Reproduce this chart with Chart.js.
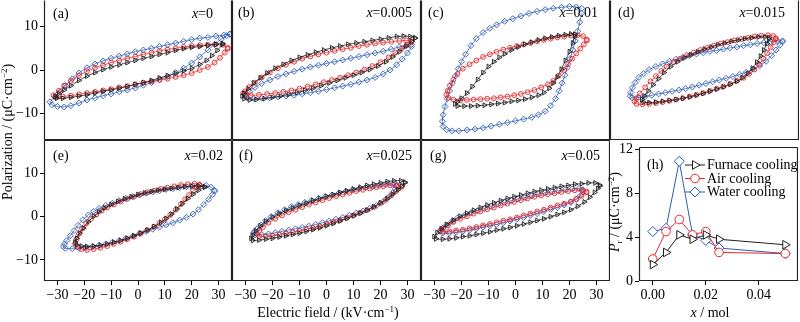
<!DOCTYPE html>
<html>
<head>
<meta charset="utf-8">
<script src="https://cdn.jsdelivr.net/npm/chart.js@4.4.1/dist/chart.umd.min.js"></script>
<style>
  body { margin: 0; background: #fff; }
  #fig { position: relative; width: 800px; height: 322px; overflow: hidden;
         font-family: "Liberation Serif", "Times New Roman", serif; color: #000; background: #fff; }
  #fig canvas { position: absolute; }
  .lbl { position: absolute; font-size: 14px; line-height: 14px; white-space: nowrap; }
  .lbl sup { font-size: 9px; vertical-align: 5px; line-height: 0; }
  .lbl sub { font-size: 9px; vertical-align: -3px; line-height: 0; }
</style>
</head>
<body>
<div id="fig"></div>
<script>
// ---- tick values and labels ----
const fieldTicks = [-30, -20, -10, 0, 10, 20, 30];
const fieldTickLabels = ['\u221230', '\u221220', '\u221210', '0', '10', '20', '30'];
const polTicks = [-10, 0, 10];
const polTickLabels = ['\u221210', '0', '10'];
const molTicks = [0, 0.02, 0.04];
const molTickLabels = ['0.00', '0.02', '0.04'];
const prTicks = [0, 4, 8, 12];
const prTickLabels = ['0', '4', '8', '12'];

// ---- P-E loops, [E (kV/cm), P (uC/cm2)]: upper branch then lower branch ----
const a_furnace = [[31.5,6.1],[29,5.9],[26,5.7],[23,5.4],[20,5.2],[17,4.9],[14,4.5],[11,4.0],[8,3.6],[5,3.1],[2,2.7],[-1,2.2],[-4,1.7],[-7,1.2],[-10,0.7],[-13,0.1],[-16,-0.6],[-19,-1.4],[-22,-2.4],[-25,-3.6],[-27.5,-4.6],[-29.5,-5.4],[-30.9,-6.1],
  [-30.2,-6.5],[-28,-6.5],[-25,-6.3],[-22,-6.0],[-19,-5.7],[-16,-5.3],[-13,-4.9],[-10,-4.6],[-7,-4.2],[-4,-3.8],[-1,-3.3],[2,-2.9],[5,-2.4],[8,-1.8],[11,-1.3],[14,-0.8],[17,-0.2],[20,0.4],[23,1.3],[25.5,2.2],[27.5,3.3],[29.5,4.5],[31.5,5.9]];
const a_air = [[33.4,5.1],[31.5,5.8],[29,5.9],[26,5.8],[23,5.7],[20,5.5],[17,5.3],[14,5.0],[11,4.7],[8,4.4],[5,4.0],[2,3.6],[-1,3.1],[-4,2.7],[-7,2.2],[-10,1.7],[-13,1.1],[-16,0.5],[-19,-0.3],[-22,-1.3],[-25,-2.5],[-27.5,-3.6],[-29.5,-4.8],[-31.5,-5.8],
  [-30.5,-6.2],[-28,-6.1],[-25,-5.9],[-22,-5.6],[-19,-5.3],[-16,-5.0],[-13,-4.7],[-10,-4.4],[-7,-4.0],[-4,-3.7],[-1,-3.3],[2,-2.9],[5,-2.6],[8,-2.3],[11,-2.0],[14,-1.6],[17,-1.2],[20,-0.7],[23,0.0],[26,0.7],[28.5,1.7],[30.5,2.8],[32.3,4.0],[33.4,4.9]];
const a_water = [[34.2,8.3],[32,8.0],[29,7.8],[26,7.5],[23,7.3],[20,7.0],[17,6.6],[14,6.2],[11,5.8],[8,5.4],[5,5.0],[2,4.6],[-1,4.2],[-4,3.7],[-7,3.2],[-10,2.7],[-13,2.1],[-16,1.4],[-19,0.5],[-22,-0.7],[-24.5,-2.0],[-27,-3.6],[-29,-5.0],[-31,-6.2],[-32.8,-7.3],
  [-32,-8.0],[-30,-8.4],[-27.5,-8.5],[-25,-8.2],[-22,-7.6],[-19,-6.9],[-16,-6.4],[-13,-5.9],[-10,-5.5],[-7,-5.0],[-4,-4.6],[-1,-4.1],[2,-3.5],[5,-2.9],[8,-2.2],[11,-1.5],[14,-0.6],[17,0.4],[20,1.6],[23,3.0],[26,4.6],[28.5,5.9],[31,7.1],[33,7.9],[34.2,8.2]];

const b_furnace = [[32.8,7.4],[31,7.7],[28.5,7.8],[26,7.7],[23,7.4],[20,7.1],[17,6.8],[14,6.5],[11,6.2],[8,5.9],[5,5.5],[2,5.1],[-1,4.6],[-4,4.1],[-7,3.5],[-10,2.9],[-13,2.2],[-16,1.3],[-19,0.4],[-22,-0.7],[-24.5,-1.8],[-27,-3.0],[-29,-4.3],[-30.5,-5.4],[-31.2,-6.0],
  [-30.5,-6.6],[-28.5,-6.9],[-26,-6.8],[-23,-6.6],[-20,-6.3],[-17,-6.0],[-14,-5.6],[-11,-5.2],[-8,-4.7],[-5,-4.2],[-2,-3.6],[1,-3.0],[4,-2.4],[7,-1.8],[10,-1.2],[13,-0.6],[16,0.1],[19,0.9],[22,1.9],[24.5,3.0],[27,4.2],[29.5,5.5],[31.5,6.6],[32.8,7.3]];
const b_air = [[31.5,6.6],[29.5,6.8],[27,6.7],[24,6.5],[21,6.3],[18,6.1],[15,5.8],[12,5.5],[9,5.1],[6,4.8],[3,4.4],[0,4.0],[-3,3.6],[-6,3.1],[-9,2.6],[-12,1.9],[-15,1.2],[-18,0.4],[-21,-0.6],[-24,-1.7],[-26.5,-2.9],[-28.5,-3.9],[-30.2,-4.9],[-30.8,-5.3],
  [-30,-5.6],[-28,-5.8],[-25,-5.7],[-22,-5.5],[-19,-5.3],[-16,-5.0],[-13,-4.7],[-10,-4.3],[-7,-3.8],[-4,-3.3],[-1,-2.8],[2,-2.3],[5,-1.8],[8,-1.2],[11,-0.6],[14,0.1],[17,0.9],[20,1.8],[23,2.9],[25.5,4.0],[28,5.0],[30,5.8],[31.5,6.4]];
const b_water = [[31.5,5.9],[29.5,5.6],[27,5.3],[24,4.8],[21,4.3],[18,3.9],[15,3.5],[12,3.1],[9,2.7],[6,2.3],[3,1.9],[0,1.5],[-3,1.1],[-6,0.7],[-9,0.2],[-12,-0.3],[-15,-0.9],[-18,-1.5],[-21,-2.3],[-24,-3.1],[-26.5,-4.0],[-28.5,-5.0],[-30,-5.9],
  [-29.5,-6.4],[-27,-6.5],[-24,-6.5],[-21,-6.4],[-18,-6.2],[-15,-6.0],[-12,-5.8],[-9,-5.5],[-6,-5.2],[-3,-4.9],[0,-4.5],[3,-4.1],[6,-3.7],[9,-3.3],[12,-2.8],[15,-2.3],[18,-1.7],[21,-0.9],[23.5,0.0],[26,1.2],[28,2.5],[30,3.9],[31.5,5.4]];

const c_furnace = [[22.0,8.2],[20.5,8.3],[18.5,8.1],[16,7.9],[13.5,7.6],[11,7.3],[8.5,6.9],[6,6.4],[3.5,5.9],[1,5.3],[-1.5,4.6],[-4,3.7],[-6,2.9],[-8,1.9],[-10,0.8],[-12,-0.6],[-14,-2.2],[-16,-3.8],[-18,-5.3],[-20,-6.5],[-21.5,-7.3],[-22.4,-7.8],
  [-21.5,-8.3],[-19,-8.3],[-16.5,-8.3],[-14,-8.2],[-11.5,-8.1],[-9,-7.9],[-6.5,-7.7],[-4,-7.5],[-1.5,-7.2],[1,-7.0],[3.5,-6.7],[6,-6.3],[8.5,-5.8],[10.5,-5.2],[12.5,-4.2],[14,-3.0],[15.5,-1.6],[17,0.2],[18.5,2.2],[20,4.2],[21.2,6.2],[22.0,7.8]];
const c_air = [[26.4,7.0],[25,7.8],[23,8.0],[20.5,7.9],[18,7.7],[15.5,7.5],[13,7.2],[10.5,6.9],[8,6.6],[5.5,6.2],[3,5.9],[0.5,5.5],[-2,5.1],[-4.5,4.7],[-7,4.2],[-9.5,3.6],[-12,3.0],[-14.5,2.2],[-17,1.3],[-19.5,0.3],[-21.5,-0.9],[-23,-2.2],[-24.3,-3.6],[-25.2,-4.8],[-25.6,-5.7],
  [-24.8,-6.4],[-23,-6.8],[-20.5,-7.0],[-18,-6.9],[-15.5,-6.8],[-13,-6.7],[-10.5,-6.6],[-8,-6.5],[-5.5,-6.3],[-3,-6.1],[-0.5,-5.8],[2,-5.5],[4.5,-5.1],[7,-4.6],[9.5,-4.0],[12,-3.3],[14,-2.5],[16,-1.3],[18,0.0],[19.5,1.3],[21,2.6],[22.5,3.8],[24,4.9],[25.3,5.9],[26.4,6.8]];
const c_water = [[24.5,14.2],[22.5,14.5],[20,14.6],[17,14.4],[14,14.2],[11,13.9],[8,13.5],[5,13.0],[2,12.4],[-1,11.8],[-4,11.2],[-7,10.4],[-9.5,9.6],[-12,8.6],[-14.5,7.2],[-16.5,5.6],[-18.5,3.6],[-20,1.9],[-21.2,0.3],[-22.3,-1.4],[-23.4,-3.0],[-24.4,-4.8],[-25.3,-6.6],[-26.1,-8.4],[-26.8,-10.3],[-27.1,-11.8],[-26.8,-13.0],[-25.5,-13.7],
  [-23.5,-14.0],[-21,-14.0],[-18,-13.8],[-15,-13.6],[-12,-13.3],[-9,-12.9],[-6,-12.5],[-3,-12.1],[0,-11.7],[3,-11.3],[6,-10.9],[8.5,-10.3],[11,-9.5],[13,-8.2],[14.8,-6.6],[16.2,-4.8],[17.3,-3.0],[18.3,-1.2],[19.2,0.6],[20.2,2.6],[21.2,4.6],[22.1,6.7],[23,8.9],[23.8,11.0],[24.4,13.0]];

const d_furnace = [[23.9,7.4],[22.5,7.6],[20,7.6],[17.5,7.4],[15,7.2],[12.5,6.9],[10,6.6],[7.5,6.2],[5,5.8],[2.5,5.3],[0,4.8],[-2.5,4.2],[-5,3.5],[-7.5,2.8],[-10,1.9],[-12.5,0.8],[-15,-0.6],[-17,-2.0],[-19,-3.4],[-20.8,-4.8],[-22.3,-6.0],[-23.2,-6.8],
  [-22.6,-7.4],[-20.5,-7.5],[-18,-7.4],[-15.5,-7.2],[-13,-7.0],[-10.5,-6.8],[-8,-6.5],[-5.5,-6.2],[-3,-5.8],[-0.5,-5.4],[2,-4.9],[4.5,-4.4],[7,-3.9],[9.5,-3.3],[12,-2.6],[14,-1.8],[16,-0.8],[17.8,0.4],[19.4,1.8],[20.8,3.2],[22,4.6],[23.1,6.0],[23.9,7.1]];
const d_air = [[26.4,7.3],[25.5,7.8],[23.5,8.0],[21,7.9],[18.5,7.7],[16,7.4],[13.5,7.1],[11,6.8],[8.5,6.4],[6,6.1],[3.5,5.6],[1,5.1],[-1.5,4.6],[-4,4.0],[-6.5,3.4],[-9,2.6],[-11.5,1.8],[-14,0.8],[-16,-0.2],[-18,-1.4],[-20,-2.6],[-22,-4.0],[-24,-5.4],[-25.3,-6.5],[-25.9,-7.2],
  [-25.2,-7.8],[-23,-7.9],[-20.5,-7.8],[-18,-7.6],[-15.5,-7.4],[-13,-7.1],[-10.5,-6.8],[-8,-6.5],[-5.5,-6.1],[-3,-5.7],[-0.5,-5.3],[2,-4.8],[4.5,-4.3],[7,-3.8],[9.5,-3.2],[12,-2.5],[14.5,-1.8],[16.5,-0.9],[18.5,0.1],[20.3,1.3],[21.8,2.6],[23.2,3.9],[24.5,5.2],[25.7,6.4],[26.4,7.1]];
const d_water = [[28.9,6.7],[27,6.7],[24.5,6.5],[22,6.3],[19.5,6.1],[17,5.8],[14.5,5.6],[12,5.3],[9.5,5.1],[7,4.8],[4.5,4.5],[2,4.3],[-0.5,4.0],[-3,3.7],[-5.5,3.3],[-8,2.9],[-10.5,2.5],[-13,2.0],[-15.5,1.4],[-18,0.8],[-20.5,0.1],[-22.5,-0.8],[-24.3,-1.7],[-25.7,-2.9],[-26.7,-4.1],[-27.3,-5.2],[-27.5,-6.0],
  [-26.8,-6.4],[-24.5,-6.3],[-22,-6.1],[-19.5,-5.8],[-17,-5.5],[-14.5,-5.2],[-12,-4.9],[-9.5,-4.6],[-7,-4.3],[-4.5,-3.9],[-2,-3.5],[0.5,-3.1],[3,-2.7],[5.5,-2.3],[8,-1.9],[10.5,-1.5],[13,-1.0],[15.5,-0.5],[18,0.2],[20.5,1.0],[22.8,2.0],[24.8,3.3],[26.5,4.6],[27.9,5.7],[28.9,6.5]];

const e_furnace = [[24.8,6.9],[22.5,7.1],[20,7.0],[17.5,6.9],[15,6.7],[12.5,6.5],[10,6.3],[7.5,6.1],[5,5.8],[2.5,5.5],[0,5.1],[-2.5,4.6],[-5,4.1],[-7.5,3.5],[-10,2.8],[-12.5,2.0],[-14.5,1.1],[-16.5,0.1],[-18.5,-1.2],[-20.3,-2.6],[-21.7,-3.8],[-22.8,-5.0],[-23.4,-5.9],
  [-22.8,-6.5],[-21,-6.8],[-19,-6.9],[-16.5,-6.8],[-14,-6.6],[-11.5,-6.3],[-9,-5.9],[-6.5,-5.5],[-4,-5.0],[-1.5,-4.4],[1,-3.8],[3.5,-3.1],[6,-2.3],[8.5,-1.3],[10.5,-0.4],[12.5,0.6],[14.5,1.8],[16.5,3.0],[18.5,4.2],[20.5,5.2],[22.5,6.1],[24.8,6.8]];
const e_air = [[22.9,7.4],[21,7.6],[18.5,7.5],[16,7.3],[13.5,7.0],[11,6.7],[8.5,6.4],[6,6.0],[3.5,5.6],[1,5.2],[-1.5,4.6],[-4,4.1],[-6.5,3.5],[-9,2.8],[-11.5,2.1],[-13.5,1.4],[-15.5,0.5],[-17.5,-0.5],[-19.3,-1.6],[-20.8,-2.8],[-22,-4.0],[-22.9,-5.2],[-23.4,-6.2],
  [-22.6,-7.0],[-21,-7.5],[-19,-7.7],[-16.5,-7.5],[-14,-7.2],[-11.5,-6.8],[-9,-6.3],[-6.5,-5.8],[-4,-5.2],[-1.5,-4.6],[1,-3.9],[3.5,-3.1],[6,-2.3],[8,-1.5],[10,-0.6],[12,0.4],[14,1.6],[16,2.9],[17.5,4.0],[19,5.0],[20.5,6.0],[22,6.8],[22.9,7.3]];
const e_water = [[28.5,6.1],[27.2,6.8],[25.4,7.2],[23,7.2],[20.5,7.1],[18,6.9],[15.5,6.7],[13,6.5],[10.5,6.3],[8,6.0],[5.5,5.7],[3,5.4],[0.5,5.0],[-2,4.6],[-4.5,4.2],[-7,3.7],[-9.5,3.1],[-12,2.6],[-14.5,1.9],[-16.5,1.2],[-18.5,0.4],[-20.5,-0.7],[-22.3,-2.0],[-23.8,-3.2],[-25.2,-4.4],[-26.5,-5.5],[-27.4,-6.3],[-27.8,-6.9],
  [-27,-7.3],[-24.5,-7.4],[-22,-7.3],[-19.5,-7.1],[-17,-6.9],[-14.5,-6.6],[-12,-6.3],[-9.5,-5.9],[-7,-5.5],[-4.5,-5.0],[-2,-4.5],[0.5,-3.9],[3,-3.4],[5.5,-2.9],[8,-2.4],[10.5,-1.9],[13,-1.4],[15.5,-0.8],[18,-0.2],[20.5,0.6],[22.5,1.6],[24.5,2.8],[26.3,4.0],[27.7,5.1],[28.5,5.9]];

const f_furnace = [[29,8.0],[27.5,8.3],[25,8.3],[22.5,8.1],[20,7.8],[17.5,7.5],[15,7.2],[12.5,6.8],[10,6.4],[7.5,6.0],[5,5.6],[2.5,5.1],[0,4.7],[-2.5,4.2],[-5,3.7],[-7.5,3.1],[-10,2.6],[-12.5,2.0],[-15,1.4],[-17.5,0.7],[-20,-0.1],[-22.5,-1.1],[-24.5,-2.1],[-26.2,-3.2],[-27.4,-4.3],[-27.9,-5.0],
  [-27.3,-5.5],[-25,-5.4],[-22.5,-5.2],[-20,-5.0],[-17.5,-4.7],[-15,-4.4],[-12.5,-4.1],[-10,-3.8],[-7.5,-3.4],[-5,-3.0],[-2.5,-2.6],[0,-2.1],[2.5,-1.6],[5,-1.0],[7.5,-0.4],[10,0.2],[12.5,0.8],[15,1.5],[17.5,2.3],[20,3.2],[22.5,4.2],[24.5,5.2],[26.5,6.2],[28,7.1],[29,7.8]];
const f_air = [[27.8,7.0],[26,7.3],[23.5,7.2],[21,7.0],[18.5,6.8],[16,6.5],[13.5,6.2],[11,5.9],[8.5,5.5],[6,5.1],[3.5,4.7],[1,4.3],[-1.5,3.8],[-4,3.3],[-6.5,2.8],[-9,2.2],[-11.5,1.6],[-14,1.0],[-16.5,0.3],[-19,-0.5],[-21.5,-1.4],[-23.5,-2.4],[-24.9,-3.3],[-25.7,-4.0],
  [-25,-4.5],[-22.5,-4.5],[-20,-4.4],[-17.5,-4.1],[-15,-3.9],[-12.5,-3.6],[-10,-3.3],[-7.5,-2.9],[-5,-2.6],[-2.5,-2.2],[0,-1.7],[2.5,-1.2],[5,-0.8],[7.5,-0.3],[10,0.3],[12.5,0.9],[15,1.5],[17.5,2.2],[20,3.1],[22,3.9],[24,4.9],[25.8,5.9],[27.8,6.9]];
const f_water = [[25.9,7.2],[24.5,7.5],[22,7.4],[19.5,7.2],[17,6.9],[14.5,6.7],[12,6.4],[9.5,6.1],[7,5.8],[4.5,5.4],[2,5.0],[-0.5,4.6],[-3,4.2],[-5.5,3.8],[-8,3.3],[-10.5,2.8],[-13,2.3],[-15.5,1.6],[-18,0.9],[-20.5,0.0],[-22.5,-0.9],[-24.3,-1.9],[-25.7,-2.8],[-26.6,-3.4],[-27,-3.8],
  [-26.5,-4.2],[-24,-4.1],[-21.5,-4.0],[-19,-3.7],[-16.5,-3.4],[-14,-3.1],[-11.5,-2.8],[-9,-2.5],[-6.5,-2.2],[-4,-1.8],[-1.5,-1.4],[1,-1.0],[3.5,-0.6],[6,-0.2],[8.5,0.3],[11,0.8],[13.5,1.3],[16,1.9],[18.5,2.6],[21,3.5],[23,4.5],[24.5,5.5],[25.5,6.4],[25.9,7.0]];

const g_furnace = [[31.2,7.3],[29.5,7.8],[27,7.8],[24.5,7.6],[22,7.5],[19.5,7.2],[17,7.0],[14.5,6.7],[12,6.4],[9.5,6.1],[7,5.8],[4.5,5.4],[2,5.0],[-0.5,4.6],[-3,4.2],[-5.5,3.7],[-8,3.2],[-10.5,2.7],[-13,2.1],[-15.5,1.5],[-18,0.8],[-20.5,0.1],[-23,-0.8],[-25.5,-1.8],[-27.5,-2.8],[-29,-3.7],[-30.1,-4.6],
  [-29.5,-5.1],[-27,-5.2],[-24.5,-5.1],[-22,-4.9],[-19.5,-4.6],[-17,-4.4],[-14.5,-4.1],[-12,-3.8],[-9.5,-3.5],[-7,-3.1],[-4.5,-2.8],[-2,-2.5],[0.5,-2.1],[3,-1.7],[5.5,-1.3],[8,-0.9],[10.5,-0.5],[13,0.0],[15.5,0.5],[18,1.0],[20.5,1.6],[23,2.4],[25.5,3.4],[27.5,4.5],[29.3,5.6],[30.5,6.5],[31.2,7.1]];
const g_air = [[26.3,5.8],[24.5,6.2],[22,6.1],[19.5,5.9],[17,5.7],[14.5,5.4],[12,5.2],[9.5,4.9],[7,4.6],[4.5,4.2],[2,3.8],[-0.5,3.4],[-3,3.0],[-5.5,2.6],[-8,2.1],[-10.5,1.7],[-13,1.2],[-15.5,0.7],[-18,0.1],[-20.5,-0.5],[-23,-1.2],[-25,-2.0],[-26.8,-2.7],[-27.8,-3.2],
  [-26.8,-3.5],[-24.5,-3.4],[-22,-3.2],[-19.5,-3.0],[-17,-2.7],[-14.5,-2.4],[-12,-2.0],[-9.5,-1.7],[-7,-1.3],[-4.5,-0.9],[-2,-0.6],[0.5,-0.2],[3,0.3],[5.5,0.7],[8,1.2],[10.5,1.6],[13,2.1],[15.5,2.6],[18,3.0],[20.5,3.5],[22.5,4.1],[24.5,4.8],[26.3,5.6]];
const g_water = [[25,6.2],[23.5,6.5],[21,6.4],[18.5,6.2],[16,6.0],[13.5,5.7],[11,5.5],[8.5,5.2],[6,4.8],[3.5,4.4],[1,4.1],[-1.5,3.7],[-4,3.3],[-6.5,2.9],[-9,2.4],[-11.5,1.9],[-14,1.4],[-16.5,0.9],[-19,0.3],[-21.5,-0.3],[-23.5,-1.1],[-25.5,-1.9],[-27,-2.7],[-27.9,-3.3],
  [-27,-3.8],[-24.5,-3.8],[-22,-3.6],[-19.5,-3.4],[-17,-3.1],[-14.5,-2.8],[-12,-2.4],[-9.5,-2.1],[-7,-1.8],[-4.5,-1.4],[-2,-1.0],[0.5,-0.6],[3,-0.2],[5.5,0.3],[8,0.7],[10.5,1.2],[13,1.7],[15.5,2.1],[18,2.7],[20.5,3.3],[22.5,4.0],[24,4.9],[25,5.8]];

// ---- remanent polarization vs. composition ----
const molFraction = [0, 0.005, 0.01, 0.015, 0.02, 0.025, 0.05];
const prFurnace = [1.5, 2.6, 4.2, 3.8, 4.2, 3.8, 3.3];
const prAir = [2.0, 4.5, 5.6, 4.2, 4.5, 2.6, 2.5];
const prWater = [4.5, 4.8, 10.9, 4.2, 3.7, 3.0, 2.5];
const seriesNames = ['Furnace cooling', 'Air cooling', 'Water cooling'];

// ---- styling ----
const SERIF = '"Liberation Serif", "Times New Roman", serif';
const STYLE = {
  furnace: { color: '#1e1e1e', pointStyle: 'triangle', rotation: 90, radius: 2.8 },
  air:     { color: '#e3262a', pointStyle: 'circle',   rotation: 0,  radius: 2.4 },
  water:   { color: '#2f5cb6', pointStyle: 'rectRot',  rotation: 0,  radius: 3.0 }
};
const FRAME = '#222';

const fig = document.getElementById('fig');

function addText(html, x, y, align, rotate) {
  const d = document.createElement('div');
  d.className = 'lbl';
  d.innerHTML = html;
  d.style.left = x + 'px';
  d.style.top = y + 'px';
  const tx = align === 'right' ? '-100%' : (align === 'center' ? '-50%' : '0');
  d.style.transform = 'translate(' + tx + ',-50%)' + (rotate ? ' rotate(-90deg)' : '');
  fig.appendChild(d);
}

// frame around the plotting area
const framePlugin = {
  id: 'frame',
  afterDraw(chart, args, opts) {
    const { ctx, chartArea: a } = chart;
    ctx.save();
    ctx.strokeStyle = FRAME;
    ctx.lineWidth = 1.2;
    ctx.beginPath();
    const l = a.left + 0.5, r = a.right - 0.5, t = a.top + 0.5, b = a.bottom - 0.5;
    if (!opts.noTop) { ctx.moveTo(l, t); ctx.lineTo(r, t); }
    ctx.moveTo(r, t); ctx.lineTo(r, b);
    ctx.lineTo(l, b); ctx.lineTo(l, t);
    ctx.stroke();
    ctx.restore();
  }
};

function makeCanvas(left, top, w, h) {
  const c = document.createElement('canvas');
  c.width = w; c.height = h;
  c.style.left = left + 'px'; c.style.top = top + 'px';
  c.style.width = w + 'px'; c.style.height = h + 'px';
  fig.appendChild(c);
  return c;
}

// fixed-size axis: the plotting area lands exactly on the panel box
function axis(min, max, ticks, labels, show, size, isX) {
  return {
    type: 'linear', min: min, max: max,
    afterBuildTicks: s => { s.ticks = ticks.map(v => ({ value: v })); },
    afterFit: s => {
      if (isX) s.height = size; else s.width = size;
      s.paddingTop = 0; s.paddingBottom = 0; s.paddingLeft = 0; s.paddingRight = 0;
    },
    border: { display: false },
    grid: { display: show, drawOnChartArea: false, drawTicks: true, tickLength: 4, color: '#000', lineWidth: 1 },
    ticks: {
      display: show, autoSkip: false, maxRotation: 0, minRotation: 0, padding: 2,
      color: '#000', font: { family: SERIF, size: 14 },
      callback: (v, i) => labels[i]
    }
  };
}

function loopDataset(points, key) {
  const s = STYLE[key];
  return {
    data: points.map(p => ({ x: p[0], y: p[1] })),
    showLine: true, borderColor: s.color, borderWidth: 0.8, tension: 0.15,
    pointStyle: s.pointStyle, rotation: s.rotation, pointRadius: s.radius,
    pointBorderColor: s.color, pointBackgroundColor: 'rgba(255,255,255,0)', pointBorderWidth: 0.9
  };
}

function loopPanel(box, yMin, yMax, showX, showY, loops, noTop) {
  const mL = showY ? 44 : 0, mB = showX ? 24 : 0;
  const c = makeCanvas(box.x - mL, box.y, box.w + mL, box.h + mB);
  new Chart(c, {
    type: 'scatter',
    data: { datasets: [loopDataset(loops.furnace, 'furnace'), loopDataset(loops.air, 'air'), loopDataset(loops.water, 'water')] },
    options: {
      responsive: false, animation: false, events: [],
      layout: { padding: 0, autoPadding: false },
      plugins: { legend: { display: false }, tooltip: { enabled: false }, frame: { noTop: noTop } },
      scales: {
        x: axis(-35, 35, fieldTicks, fieldTickLabels, showX, mB, true),
        y: axis(yMin, yMax, polTicks, polTickLabels, showY, mL, false)
      }
    },
    plugins: [framePlugin]
  });
}

const TOP = [-16.1, 16.1], BOT = [-14.85, 17.7];
loopPanel({ x: 44,  y: 0, w: 188, h: 140 }, TOP[0], TOP[1], false, true,  { furnace: a_furnace, air: a_air, water: a_water }, true);
loopPanel({ x: 232, y: 0, w: 189, h: 140 }, TOP[0], TOP[1], false, false, { furnace: b_furnace, air: b_air, water: b_water }, true);
loopPanel({ x: 421, y: 0, w: 189, h: 140 }, TOP[0], TOP[1], false, false, { furnace: c_furnace, air: c_air, water: c_water }, true);
loopPanel({ x: 610, y: 0, w: 189, h: 140 }, TOP[0], TOP[1], false, false, { furnace: d_furnace, air: d_air, water: d_water }, true);
loopPanel({ x: 44,  y: 140, w: 188, h: 141 }, BOT[0], BOT[1], true, true,  { furnace: e_furnace, air: e_air, water: e_water }, false);
loopPanel({ x: 232, y: 140, w: 189, h: 141 }, BOT[0], BOT[1], true, false, { furnace: f_furnace, air: f_air, water: f_water }, false);
loopPanel({ x: 421, y: 140, w: 189, h: 141 }, BOT[0], BOT[1], true, false, { furnace: g_furnace, air: g_air, water: g_water }, false);

// ---- panel (h): Pr vs x ----
const hBox = { x: 639, y: 147, w: 159, h: 134 };
const hL = 24, hB = 24, hT = 8;
const hCanvasLeft = hBox.x - hL, hCanvasTop = hBox.y - hT;

function prDataset(values, key) {
  const s = STYLE[key];
  return {
    data: values.map((v, i) => ({ x: molFraction[i], y: v })),
    showLine: true, borderColor: s.color, borderWidth: 1, tension: 0,
    pointStyle: s.pointStyle, rotation: s.rotation,
    pointRadius: key === 'air' ? 4.3 : 5, pointBorderWidth: 1,
    pointBorderColor: s.color, pointBackgroundColor: '#fff'
  };
}

const legendPlugin = {
  id: 'prLegend',
  afterDatasetsDraw(chart) {
    const ctx = chart.ctx;
    const keys = ['furnace', 'air', 'water'];
    const rowsY = [165, 178.5, 192];
    ctx.save();
    keys.forEach((k, i) => {
      const s = STYLE[k];
      const y = rowsY[i] - hCanvasTop;
      const x0 = 685 - hCanvasLeft, x1 = 705 - hCanvasLeft;
      ctx.strokeStyle = s.color; ctx.lineWidth = 1;
      ctx.beginPath(); ctx.moveTo(x0, y); ctx.lineTo(x1, y); ctx.stroke();
      ctx.fillStyle = '#fff';
      Chart.helpers.drawPoint(ctx, { pointStyle: s.pointStyle, rotation: s.rotation, radius: k === 'air' ? 4.3 : 5, borderWidth: 1 }, (x0 + x1) / 2, y);
      ctx.fillStyle = '#000';
      ctx.font = '14px ' + SERIF;
      ctx.textBaseline = 'middle';
      ctx.textAlign = 'left';
      ctx.fillText(seriesNames[i], x1 + 2, y + 0.5);
    });
    ctx.restore();
  }
};

const hc = makeCanvas(hCanvasLeft, hCanvasTop, hBox.w + hL, hBox.h + hB + hT);
new Chart(hc, {
  type: 'scatter',
  data: { datasets: [prDataset(prFurnace, 'furnace'), prDataset(prAir, 'air'), prDataset(prWater, 'water')] },
  options: {
    responsive: false, animation: false, events: [],
    layout: { padding: { top: hT, left: 0, right: 0, bottom: 0 }, autoPadding: false },
    plugins: { legend: { display: false }, tooltip: { enabled: false }, frame: { noTop: false } },
    scales: {
      x: axis(-0.0052, 0.0548, molTicks, molTickLabels, true, hB, true),
      y: axis(0, 12.2, prTicks, prTickLabels, true, hL, false)
    }
  },
  plugins: [framePlugin, legendPlugin]
});

// ---- panel tags and composition labels ----
addText('(a)', 53, 14, 'left');  addText('<i>x</i>=0', 213, 14, 'right');
addText('(b)', 238, 13, 'left'); addText('<i>x</i>=0.005', 412, 13, 'right');
addText('(c)', 428, 13, 'left'); addText('<i>x</i>=0.01', 598, 13, 'right');
addText('(d)', 618, 13, 'left'); addText('<i>x</i>=0.015', 785, 13, 'right');
addText('(e)', 53, 156, 'left');  addText('<i>x</i>=0.02', 223, 156, 'right');
addText('(f)', 239, 156, 'left'); addText('<i>x</i>=0.025', 412, 156, 'right');
addText('(g)', 430, 156, 'left'); addText('<i>x</i>=0.05', 600, 156, 'right');
addText('(h)', 647, 165, 'left');

// ---- axis titles ----
addText('Polarization / (\u03bcC\u00b7cm<sup>\u22122</sup>)', 8, 132, 'center', true);
addText('Electric field / (kV\u00b7cm<sup>\u22121</sup>)', 328, 313, 'center');
addText('<i>x</i> / mol', 710, 313, 'center');
addText('<i>P</i><sub>r</sub> / (\u03bcC\u00b7cm<sup>\u22122</sup>)', 615, 212, 'center', true);
</script>
</body>
</html>
